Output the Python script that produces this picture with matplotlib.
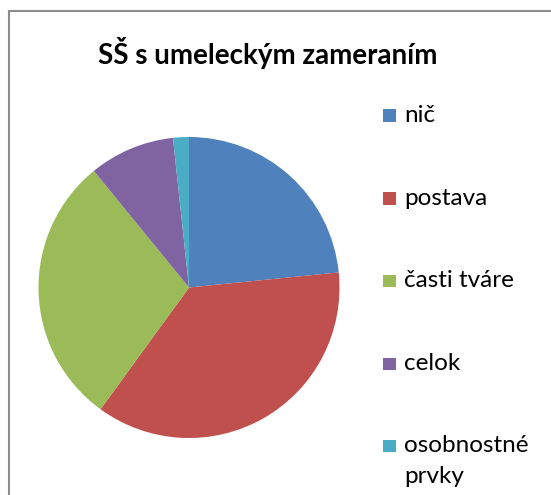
import matplotlib
matplotlib.use("Agg")
from matplotlib import pyplot as plt
from matplotlib.patches import Rectangle
from matplotlib.lines import Line2D

# data (percent of answers)
labels = ['nič', 'postava', 'časti tváre', 'celok', 'osobnostné\nprvky']
values = [23.4, 36.6, 29.1, 9.2, 1.7]
colors = ['#4F81BD', '#C0504D', '#9BBB59', '#8064A2', '#4BACC6']
title = 'SŠ s umeleckým zameraním'

W, H = 551, 495
fig = plt.figure(figsize=(W/100, H/100), dpi=100)
fig.patch.set_facecolor('white')

# frame of the chart area (left and top edges visible)
fig.add_artist(Line2D([9/W, 9/W], [0, 1 - 11/H], color='#8c8c8c', lw=1.5))
fig.add_artist(Line2D([9/W, 1], [1 - 11/H, 1 - 11/H], color='#8c8c8c', lw=1.5))

# pie
cx, cy, r = 189, 287.5, 150.5
ax = fig.add_axes([(cx - r)/W, (H - cy - r)/H, 2*r/W, 2*r/H])
ax.pie(values, colors=colors, startangle=90, counterclock=False, radius=1,
       wedgeprops=dict(linewidth=0))
ax.set_xlim(-1, 1)
ax.set_ylim(-1, 1)
ax.set_aspect('auto')
ax.axis('off')

fig.text(268/W, 1 - 64/H, title, ha='center', va='baseline',
         fontsize=20, fontweight='bold', family='Lato')

# legend drawn by hand, one row per slice
baselines = [122, 205, 287, 370, 452]
for lab, col, y in zip(labels, colors, baselines):
    fig.add_artist(Rectangle((383/W, 1 - y/H), 13/W, 12.5/H,
                             transform=fig.transFigure, facecolor=col,
                             edgecolor='none'))
    lines = lab.split('\n')
    for k, line in enumerate(lines):
        fig.text(404/W, 1 - (y + 31*k)/H, line, ha='left', va='baseline',
                 fontsize=17.5, family='Lato')

fig.savefig('out.png', dpi=100)
